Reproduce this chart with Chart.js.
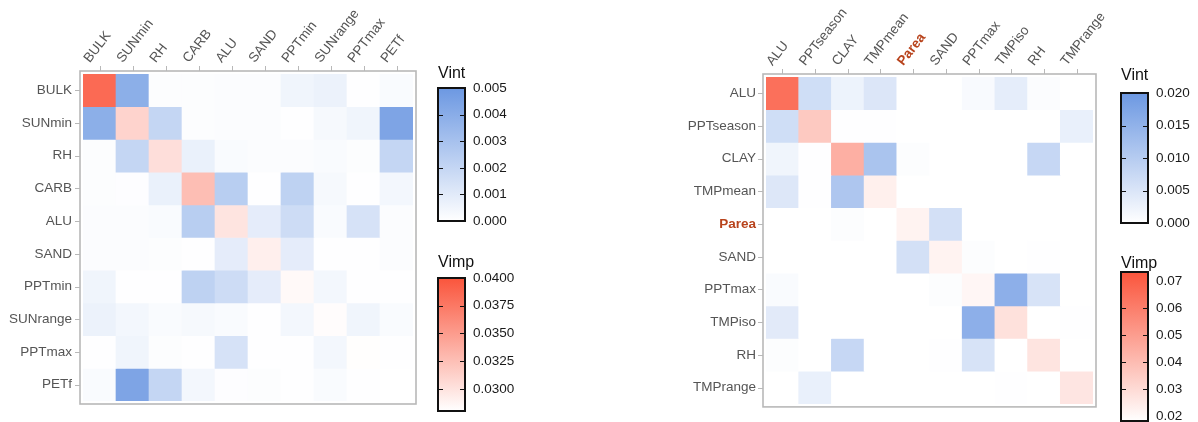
<!DOCTYPE html>
<html>
<head>
<meta charset="utf-8">
<script src="https://cdn.jsdelivr.net/npm/chart.js@4.4.1/dist/chart.umd.min.js"></script>
<style>
  body { margin: 0; background: #fff; width: 1198px; height: 422px; position: relative; overflow: hidden; }
  canvas { position: absolute; }
</style>
</head>
<body>
<canvas id="vintA" width="110" height="190" style="left:428px;top:48px"></canvas>
<canvas id="vimpA" width="110" height="190" style="left:428px;top:238px"></canvas>
<canvas id="vintB" width="110" height="187" style="left:1111px;top:53px"></canvas>
<canvas id="vimpB" width="110" height="206" style="left:1111px;top:232px"></canvas>
<canvas id="heatA" width="450" height="422" style="left:0;top:0"></canvas>
<canvas id="heatB" width="470" height="422" style="left:680px;top:0"></canvas>
<script>
// left panel
const varsA = ['BULK', 'SUNmin', 'RH', 'CARB', 'ALU', 'SAND', 'PPTmin', 'SUNrange', 'PPTmax', 'PETf'];
const vimpA = [0.0385, 0.0311, 0.0303, 0.0326, 0.0299, 0.0291, 0.0284, 0.0282, 0.0281, 0.0280];
const vintA = [
  [null, 0.0039, 0.0001, 0.0001, 0.00015, 0.00015, 0.0005, 0.00065, 0.00003, 0.0002],
  [0.0039, null, 0.002, 0.0001, 0.00015, 0.00015, 0.00003, 0.0003, 0.0005, 0.0044],
  [0.0001, 0.002, null, 0.0007, 0.0002, 0.00015, 0.00015, 0.0002, 0.0001, 0.002],
  [0.0001, 0.00008, 0.0007, null, 0.0024, 0.00003, 0.0022, 0.0003, 0.00005, 0.0004],
  [0.00015, 0.00015, 0.0002, 0.0024, null, 0.0009, 0.0017, 0.0002, 0.0014, 0.00015],
  [0.00015, 0.00015, 0.0001, 0.00003, 0.0009, null, 0.0009, 0.00005, 0.00003, 0.00015],
  [0.0005, 0.00003, 0.00005, 0.0022, 0.0017, 0.0009, null, 0.0004, 0.00005, 0.00003],
  [0.00065, 0.0004, 0.0002, 0.0003, 0.0002, 0.00003, 0.0004, null, 0.0005, 0.0002],
  [0.00003, 0.0005, 0.0001, 0.00005, 0.0014, 0.00003, 0.00005, 0.0004, null, 0.00005],
  [0.0002, 0.0044, 0.002, 0.0004, 0.00008, 0.0001, 0.00003, 0.0002, 0.00003, null]
];
const vintRangeA = [0, 0.005];
const vimpRangeA = [0.028, 0.04];
const vintTicksA = [0, 0.001, 0.002, 0.003, 0.004, 0.005];
const vimpTicksA = [0.03, 0.0325, 0.035, 0.0375, 0.04];

// right panel
const varsB = ['ALU', 'PPTseason', 'CLAY', 'TMPmean', 'Parea', 'SAND', 'PPTmax', 'TMPiso', 'RH', 'TMPrange'];
const vimpB = [0.0645, 0.0358, 0.0441, 0.0232, 0.0221, 0.0221, 0.021, 0.028, 0.027, 0.0265];
const vintB = [
  [null, 0.0065, 0.0024, 0.0048, 0, 0, 0.0009, 0.0035, 0.0006, 0],
  [0.0065, null, 0.0002, 0.0002, 0, 0, 0, 0, 0, 0.003],
  [0.002, 0.0002, null, 0.0115, 0.0004, 0, 0, 0, 0.0078, 0],
  [0.0046, 0.0002, 0.011, null, 0, 0, 0, 0, 0, 0],
  [0, 0, 0.0004, 0, null, 0.006, 0, 0, 0, 0],
  [0, 0, 0, 0, 0.006, null, 0.0004, 0, 0.0002, 0],
  [0.0008, 0, 0, 0, 0, 0.0004, null, 0.0155, 0.0055, 0],
  [0.004, 0, 0, 0, 0, 0, 0.0155, null, 0, 0.0002],
  [0.0004, 0, 0.0077, 0, 0, 0.0002, 0.0054, 0, null, 0],
  [0, 0.003, 0, 0, 0, 0, 0, 0.0002, 0, null]
];
const vintRangeB = [0, 0.02];
const vimpRangeB = [0.0182, 0.0733];
const vintTicksB = [0, 0.005, 0.01, 0.015, 0.02];
const vimpTicksB = [0.02, 0.03, 0.04, 0.05, 0.06, 0.07];

const BLUE = [108, 152, 226];
const RED = [250, 85, 60];
const FONT = '"Liberation Sans", Arial, sans-serif';
const HIGHLIGHT = 'Parea';

// white -> colour, linear in rgb
function shade(rgb, v, range) {
  const t = Math.max(0, Math.min(1, (v - range[0]) / (range[1] - range[0])));
  const c = rgb.map(k => Math.round(255 + (k - 255) * t));
  return 'rgb(' + c.join(',') + ')';
}

// grey frame around the cells plus the little tick marks
const framePlugin = {
  id: 'frame',
  afterDraw(chart) {
    const { ctx, chartArea: a, scales } = chart;
    ctx.save();
    ctx.strokeStyle = '#b8b8b8';
    ctx.lineWidth = 1.6;
    ctx.strokeRect(a.left - 3, a.top - 3, a.right - a.left + 6, a.bottom - a.top + 6);
    ctx.lineWidth = 1;
    ctx.beginPath();
    scales.x.ticks.forEach((t, i) => {
      const x = Math.round(scales.x.getPixelForTick(i)) + 0.5;
      ctx.moveTo(x, a.top - 8);
      ctx.lineTo(x, a.top - 3);
    });
    scales.y.ticks.forEach(t => {
      const y = Math.round(scales.y.getPixelForValue(t.value)) + 0.5;
      ctx.moveTo(a.left - 8, y);
      ctx.lineTo(a.left - 3, y);
    });
    ctx.stroke();
    ctx.restore();
  }
};

function drawHeatmap(id, vars, vimp, vint, vimpRange, vintRange, box) {
  const datasets = vars.map((row, i) => ({
    label: row,
    data: vars.map(() => 1),
    backgroundColor: vars.map((col, j) => i === j
      ? shade(RED, vimp[i], vimpRange)
      : shade(BLUE, vint[i][j], vintRange)),
    borderWidth: 0,
    barPercentage: 1,
    categoryPercentage: 1
  }));
  const tickFont = c => ({
    family: FONT, size: 13.5,
    weight: vars[c.index] === HIGHLIGHT ? 'bold' : 'normal'
  });
  const tickColor = c => vars[c.index] === HIGHLIGHT ? '#b8431c' : '#555555';

  new Chart(document.getElementById(id), {
    type: 'bar',
    data: { labels: vars, datasets },
    options: {
      responsive: false,
      animation: false,
      layout: { padding: { left: 0, top: 0, right: box.right, bottom: box.bottom } },
      plugins: { legend: { display: false }, tooltip: { enabled: false } },
      scales: {
        x: {
          position: 'top',
          stacked: true,
          grid: { display: false, drawTicks: false },
          border: { display: false },
          ticks: { autoSkip: false, minRotation: 52, maxRotation: 52, padding: 8, font: tickFont, color: tickColor },
          afterFit: s => { s.height = box.top; }
        },
        y: {
          stacked: true,
          reverse: true,
          min: 0,
          max: vars.length,
          grid: { display: false, drawTicks: false },
          border: { display: false },
          afterBuildTicks: s => { s.ticks = vars.map((v, i) => ({ value: i + 0.5 })); },
          ticks: { padding: box.labelGap, font: tickFont, color: tickColor, callback: (v, i) => vars[i] },
          afterFit: s => { s.width = box.left; }
        }
      }
    },
    plugins: [framePlugin]
  });
}

// black box, inner tick marks and the legend title
const barPlugin = {
  id: 'cbar',
  afterDraw(chart) {
    const { ctx, chartArea: a, scales } = chart;
    const o = chart.options.plugins.cbar;
    ctx.save();
    ctx.strokeStyle = '#111';
    ctx.lineWidth = 1;
    ctx.beginPath();
    scales.y.ticks.forEach(t => {
      const y = Math.round(scales.y.getPixelForValue(t.value)) + 0.5;
      if (y < a.top + 10 || y > a.bottom - 6) return;
      ctx.moveTo(a.left, y); ctx.lineTo(a.left + 5, y);
      ctx.moveTo(a.right - 5, y); ctx.lineTo(a.right, y);
    });
    ctx.stroke();
    ctx.lineWidth = 2;
    ctx.strokeRect(a.left, a.top, a.right - a.left, a.bottom - a.top);
    ctx.fillStyle = '#111';
    ctx.font = '16px ' + FONT;
    ctx.textBaseline = 'alphabetic';
    ctx.fillText(o.title, a.left, a.top - o.gap);
    ctx.restore();
  }
};

function drawColorbar(id, title, rgb, range, ticks, decimals, box) {
  new Chart(document.getElementById(id), {
    type: 'bar',
    data: {
      labels: [title],
      datasets: [{
        data: [range],
        backgroundColor: c => {
          const area = c.chart.chartArea;
          if (!area) return '#fff';
          const g = c.chart.ctx.createLinearGradient(0, area.bottom, 0, area.top);
          g.addColorStop(0, '#ffffff');
          g.addColorStop(1, 'rgb(' + rgb.join(',') + ')');
          return g;
        },
        borderWidth: 0,
        barPercentage: 1,
        categoryPercentage: 1
      }]
    },
    options: {
      responsive: false,
      animation: false,
      layout: { padding: { left: 10, top: 40, right: 0, bottom: box.bottom } },
      plugins: { legend: { display: false }, tooltip: { enabled: false }, cbar: { title, gap: box.gap } },
      scales: {
        x: { display: false },
        y: {
          position: 'right',
          min: range[0],
          max: range[1],
          grid: { display: false, drawTicks: false },
          border: { display: false },
          afterBuildTicks: s => { s.ticks = ticks.map(v => ({ value: v })); },
          ticks: {
            padding: 8,
            color: '#1a1a1a',
            font: { family: FONT, size: 13.5 },
            callback: v => v.toFixed(decimals)
          },
          afterFit: s => { s.width = 73; }
        }
      }
    },
    plugins: [barPlugin]
  });
}

drawHeatmap('heatA', varsA, vimpA, vintA, vimpRangeA, vintRangeA,
  { left: 83, top: 74, right: 37, bottom: 21, labelGap: 11 });
drawHeatmap('heatB', varsB, vimpB, vintB, vimpRangeB, vintRangeB,
  { left: 86, top: 77, right: 57, bottom: 18, labelGap: 10 });

drawColorbar('vintA', 'Vint', BLUE, vintRangeA, vintTicksA, 3, { bottom: 17, gap: 10 });
drawColorbar('vimpA', 'Vimp', RED, vimpRangeA, vimpTicksA, 4, { bottom: 17, gap: 11 });
drawColorbar('vintB', 'Vint', BLUE, vintRangeB, vintTicksB, 3, { bottom: 17, gap: 13 });
drawColorbar('vimpB', 'Vimp', RED, vimpRangeB, vimpTicksB, 2, { bottom: 17, gap: 4 });
</script>
</body>
</html>
